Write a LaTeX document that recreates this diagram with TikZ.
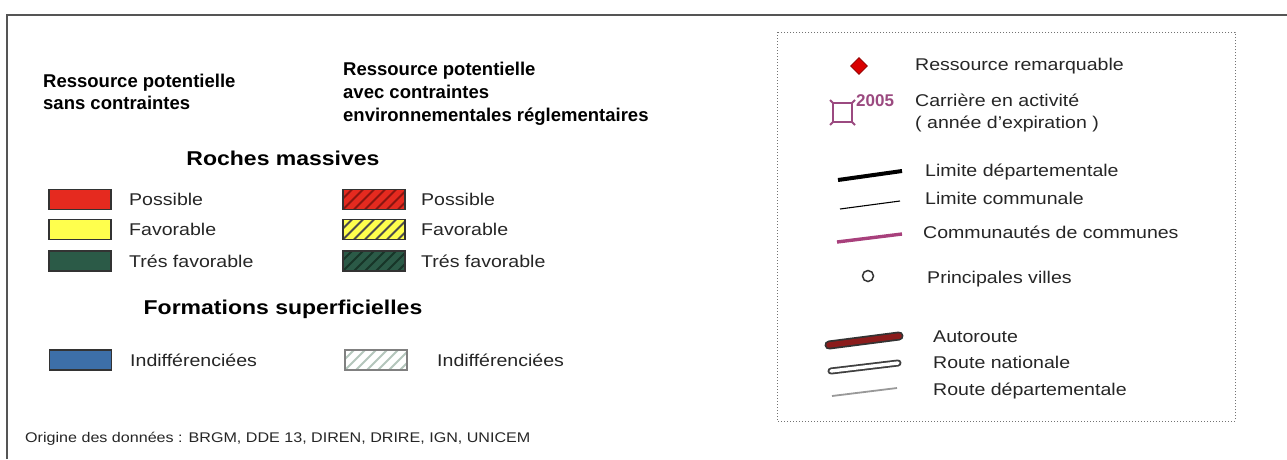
\documentclass[tikz,border=0pt]{standalone}
\usepackage{fontspec}
\setmainfont{Liberation Sans}[FakeStretch=1.15]
\newfontfamily\headfont{Liberation Sans}
\usetikzlibrary{shapes.geometric}
\definecolor{swred}{HTML}{E52A1F}
\definecolor{swredd}{HTML}{8A1510}
\definecolor{swyel}{HTML}{FFFF4D}
\definecolor{swgrn}{HTML}{2B5A47}
\definecolor{swgrnd}{HTML}{173528}
\definecolor{swblue}{HTML}{3D6FA8}
\definecolor{swlight}{HTML}{B4C6BC}
\definecolor{quarry}{HTML}{9B4A80}
\definecolor{comcom}{HTML}{A8407C}
\definecolor{autor}{HTML}{8B1C1C}
\definecolor{framec}{HTML}{555555}
\begin{document}
\begin{tikzpicture}[x=1pt,y=-1pt,
  lbl/.style={anchor=base west, inner sep=0pt, font=\fontsize{17}{21}\selectfont, text=black!85},
  hdr/.style={anchor=base west, inner sep=0pt, font=\headfont\bfseries\fontsize{18.5}{22}\selectfont},
  ttl/.style={anchor=base, inner sep=0pt, font=\bfseries\fontsize{20}{24}\selectfont},
  swatch/.style={draw=black!80, line width=1.2pt, minimum width=62pt, minimum height=20pt, inner sep=0pt},
  hatch/.style={path picture={\foreach \k in {-3,...,6}{\draw[#1, line width=1.8pt] ([xshift=\k*11pt]path picture bounding box.south west) -- ++(24pt,24pt);}}},
]
\useasboundingbox (0,0) rectangle (1287,459);
\fill[white] (0,0) rectangle (1287,459);
% outer frame (partly visible)
\coordinate (fa) at (7,459);
\coordinate (fb) at (7,15);
\coordinate (fc) at (1287,15);
\draw[framec, line width=1.8pt] (fa) -- (fb) -- (fc);
% dotted box
\coordinate (db1) at (777,32);
\coordinate (db2) at (1235,421);
\draw[black!55, dotted, line width=1pt] (db1) rectangle (db2);

% headers
\node[hdr] (h1a) at (43,87.6) {Ressource potentielle};
\node[hdr] (h1b) at (43,109.6) {sans contraintes};
\node[hdr] (h2a) at (343,75.6) {Ressource potentielle};
\node[hdr] (h2b) at (343,98.6) {avec contraintes};
\node[hdr] (h2c) at (343,121.6) {environnementales réglementaires};

\node[ttl] (t1) at (283,165) {Roches massives};
\node[ttl] (t2) at (283,314) {Formations superficielles};

% left swatches
\node[swatch, fill=swred] (s1) at (80,199.5) {};
\node[swatch, fill=swyel] (s2) at (80,229.5) {};
\node[swatch, fill=swgrn] (s3) at (80,261) {};
\node[lbl] (l1) at (129,205.5) {Possible};
\node[lbl] (l2) at (129,235.5) {Favorable};
\node[lbl] (l3) at (129,267) {Trés favorable};
% right swatches (hatched)
\node[swatch, fill=swred, hatch=swredd] (r1) at (374,199.5) {};
\node[swatch, fill=swyel, hatch=black!70] (r2) at (374,229.5) {};
\node[swatch, fill=swgrn, hatch=swgrnd] (r3) at (374,261) {};
\node[lbl] (m1) at (421,205.5) {Possible};
\node[lbl] (m2) at (421,235.5) {Favorable};
\node[lbl] (m3) at (421,267) {Trés favorable};
% formations superficielles
\node[swatch, fill=swblue] (s4) at (80.5,360) {};
\node[lbl] (l4) at (130,366.5) {Indifférenciées};
\node[swatch, draw=black!50, fill=white, hatch=swlight] (r4) at (376,360) {};
\node[lbl] (m4) at (437,366.5) {Indifférenciées};

\node[anchor=base west, inner sep=0pt, font=\fontsize{14}{17}\selectfont, text=black!85] (orig) at (25,442) {Origine des données : BRGM, DDE 13, DIREN, DRIRE, IGN, UNICEM};

% right panel
\node[diamond, fill=red!85!black, draw=red!55!black, line width=0.6pt, minimum width=17pt, minimum height=17pt, inner sep=0pt] (dia) at (859,66) {};
\node[lbl] (p1) at (915,70) {Ressource remarquable};

\coordinate (qa) at (833,103);
\coordinate (qb) at (852,122);
\draw[quarry, line width=2.6pt] (qa) rectangle (qb);
\draw[quarry, line width=1.8pt] (qa) -- ++(-3pt,3pt) (qb) -- ++(3pt,-3pt) (qa |- qb) -- ++(-3pt,-3pt) (qb |- qa) -- ++(3pt,3pt);
\node[anchor=base west, inner sep=0pt, font=\headfont\bfseries\fontsize{17}{20}\selectfont, text=quarry] (yr) at (856,106) {2005};
\node[lbl] (p2) at (915,106) {Carrière en activité};
\node[lbl] (p2b) at (915,128) {( année d'expiration )};

\coordinate (ld1) at (838,180);
\coordinate (ld2) at (902,171);
\draw[black, line width=4pt] (ld1) -- (ld2);
\node[lbl] (p3) at (925,176) {Limite départementale};

\coordinate (lc1) at (840,209);
\coordinate (lc2) at (900,201);
\draw[black, line width=1.1pt] (lc1) -- (lc2);
\node[lbl] (p4) at (925,204) {Limite communale};

\coordinate (cc1) at (837,242);
\coordinate (cc2) at (902,234);
\draw[comcom, line width=3.4pt] (cc1) -- (cc2);
\node[lbl] (p5) at (923,238) {Communautés de communes};

\node[circle, draw=black!80, line width=1.5pt, minimum size=11pt, inner sep=0pt] (cir) at (868,276) {};
\node[lbl] (p6) at (927,283) {Principales villes};

\coordinate (au1) at (829,345);
\coordinate (au2) at (899,336);
\draw[black!80, line width=9pt, line cap=round] (au1) -- (au2);
\draw[autor, line width=5.5pt, line cap=round] (au1) -- (au2);
\node[lbl] (p7) at (933,342) {Autoroute};

\coordinate (rn1) at (831,371);
\coordinate (rn2) at (898,363);
\draw[black!75, line width=7pt, line cap=round] (rn1) -- (rn2);
\draw[white, line width=3.4pt, line cap=round] (rn1) -- (rn2);
\node[lbl] (p8) at (933,368) {Route nationale};

\coordinate (rd1) at (832,396);
\coordinate (rd2) at (897,388);
\draw[black!40, line width=1.8pt] (rd1) -- (rd2);
\node[lbl] (p9) at (933,395) {Route départementale};
\end{tikzpicture}
\end{document}
